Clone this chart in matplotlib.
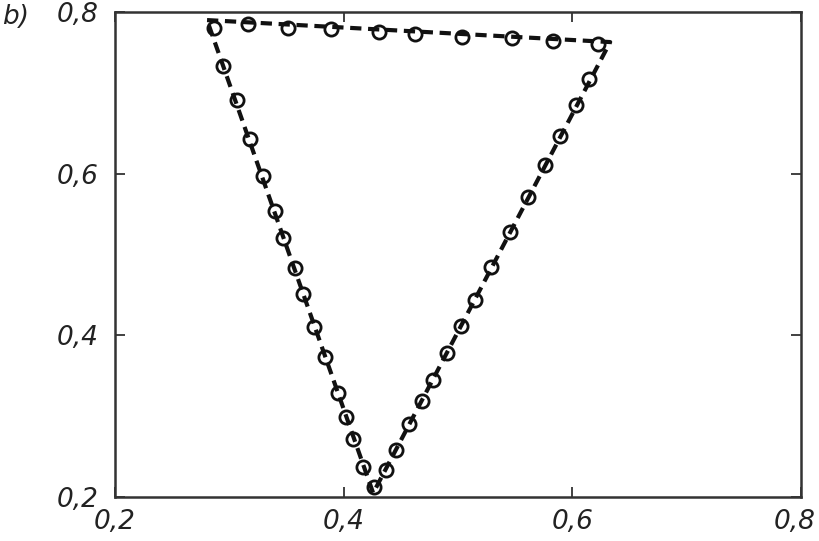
import matplotlib
matplotlib.use('Agg')
import matplotlib.pyplot as plt
import matplotlib.transforms as mtransforms

# measured points (open circles)
top_x = [0.2866, 0.3164, 0.3514, 0.3890, 0.4310, 0.4625, 0.5036, 0.5474, 0.5833, 0.6226]
top_y = [0.7802, 0.7851, 0.7802, 0.7789, 0.7752, 0.7727, 0.7690, 0.7678, 0.7641, 0.7604]

left_x = [0.2945, 0.3068, 0.3181, 0.3295, 0.3400, 0.3470, 0.3575, 0.3645, 0.3741,
          0.3838, 0.3951, 0.4021, 0.4083, 0.4170, 0.4266]
left_y = [0.7331, 0.6911, 0.6428, 0.5971, 0.5538, 0.5204, 0.4833, 0.4511, 0.4103,
          0.3732, 0.3286, 0.2990, 0.2717, 0.2371, 0.2124]

right_x = [0.4371, 0.4459, 0.4573, 0.4686, 0.4783, 0.4905, 0.5028, 0.5150, 0.5290,
           0.5456, 0.5614, 0.5763, 0.5894, 0.6034, 0.6148]
right_y = [0.2334, 0.2581, 0.2903, 0.3188, 0.3447, 0.3781, 0.4115, 0.4437, 0.4845,
           0.5278, 0.5711, 0.6107, 0.6466, 0.6849, 0.7171]

# dashed triangle (fit)
tri_x = [0.2805, 0.6331, 0.4258, 0.2805]
tri_y = [0.7900, 0.7628, 0.2049, 0.7900]

ticks = [0.2, 0.4, 0.6, 0.8]
tick_labels = ['0,2', '0,4', '0,6', '0,8']

fig = plt.figure(figsize=(8.2, 5.41), dpi=100)
ax = fig.add_axes([115/820, 1-497/541, 686/820, 485/541])

ax.plot(tri_x, tri_y, color='#111111', lw=3.0, linestyle=(0, (2.7, 1.6)), zorder=2)
pts_x = top_x + left_x + right_x
pts_y = top_y + left_y + right_y
ax.plot(pts_x, pts_y, linestyle='none', marker='o', ms=9.5, mfc='none',
        mec='#111111', mew=2.0, zorder=3)

ax.set_xlim(0.2, 0.8)
ax.set_ylim(0.2, 0.8)
ax.set_xticks(ticks)
ax.set_yticks(ticks)
ax.set_xticklabels(tick_labels)
ax.set_yticklabels(tick_labels)
ax.tick_params(direction='in', length=7, width=1.3, color='#333333',
               top=True, right=True, labelsize=19)
ax.tick_params(axis='x', pad=9)
ax.tick_params(axis='y', pad=12)
for lab in ax.get_xticklabels() + ax.get_yticklabels():
    lab.set_fontstyle('italic')
    lab.set_color('#222222')
for s in ax.spines.values():
    s.set_linewidth(1.8)
    s.set_color('#333333')

# keep the last x label inside the picture
last = ax.get_xticklabels()[-1]
last.set_transform(last.get_transform() +
                   mtransforms.ScaledTranslation(-6/100, 0, fig.dpi_scale_trans))

fig.text(2/820, 1-24/541, 'b)', fontsize=19, style='italic', color='#222222',
         ha='left', va='baseline')

fig.savefig('out.png', dpi=100)
